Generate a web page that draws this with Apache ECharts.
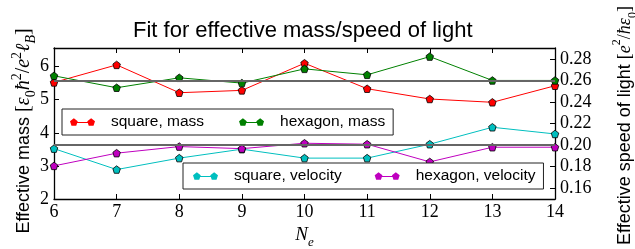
<!doctype html>
<html>
<head>
    <title>Effective mass / speed of light</title>
    <script src="https://cdn.jsdelivr.net/npm/echarts@6/dist/echarts.min.js"></script>
</head>
<style>
    html, body { margin: 0; padding: 0; background: #fff; }
    #chart { width: 635px; height: 249px; }
</style>
<body>
<div id="chart"></div>
<script>
  // values
  var ne = [6, 7, 8, 9, 10, 11, 12, 13, 14];
  var squareMass = [5.52, 6.05, 5.21, 5.28, 6.10, 5.33, 5.02, 4.92, 5.42];
  var hexagonMass = [5.72, 5.36, 5.66, 5.50, 5.93, 5.75, 6.30, 5.58, 5.58];
  var squareVelocity = [0.1967, 0.1773, 0.1879, 0.1962, 0.1879, 0.1879, 0.2008, 0.2165, 0.2103];
  var hexagonVelocity = [0.1807, 0.1925, 0.1986, 0.1967, 0.2017, 0.2008, 0.1844, 0.1980, 0.1980];
  var refLines = [0.26, 0.1952];
  var massTicks = [2, 3, 4, 5, 6];
  var speedTicks = [0.16, 0.18, 0.20, 0.22, 0.24, 0.26, 0.28];

  var pentagon = 'path://M0,-1L0.951,-0.309L0.588,0.809L-0.588,0.809L-0.951,-0.309Z';
  var legendIcon = 'path://M4,0L7.8,2.76L6.35,7.24L1.65,7.24L0.2,2.76ZM4,3.5L21,3.5L21,4.5L4,4.5Z' +
                   'M21,0L24.8,2.76L23.35,7.24L18.65,7.24L17.2,2.76Z';

  var serif = 'Liberation Serif';
  var sans = 'Liberation Sans';

  function pts(arr) {
    return ne.map(function (x, i) { return [x, arr[i]]; });
  }

  function mkSeries(name, arr, color, yIdx) {
    return {
      name: name,
      type: 'line',
      yAxisIndex: yIdx,
      data: pts(arr),
      symbol: pentagon,
      symbolSize: 7.5,
      showAllSymbol: true,
      lineStyle: { color: color, width: 1 },
      itemStyle: { color: color, borderColor: '#000', borderWidth: 0.8 },
      emphasis: { disabled: true },
      animation: false,
      z: 3
    };
  }

  function mathRich(big, small) {
    return {
      s: { fontFamily: sans, fontSize: 18, color: '#000', lineHeight: 28 },
      r: { fontFamily: serif, fontSize: big, color: '#000', lineHeight: 28 },
      m: { fontFamily: serif, fontStyle: 'italic', fontSize: big, color: '#000', lineHeight: 28 },
      sup: { fontFamily: serif, fontSize: small, color: '#000', verticalAlign: 'top', lineHeight: 28 },
      sub: { fontFamily: serif, fontStyle: 'italic', fontSize: small, color: '#000', verticalAlign: 'bottom', lineHeight: 28 },
      subr: { fontFamily: serif, fontSize: small, color: '#000', verticalAlign: 'bottom', lineHeight: 28 }
    };
  }

  var tickRich = { d: { fontFamily: serif, fontSize: 18, color: '#000' } };

  var frame = { show: true, onZero: false, lineStyle: { color: '#000', width: 1.3 } };
  var tickIn = { show: true, inside: true, length: 5, lineStyle: { color: '#000', width: 1 } };

  var chart = echarts.init(document.getElementById('chart'));

  var seriesList = [
    mkSeries('square, mass', squareMass, '#ff0000', 0),
    mkSeries('hexagon, mass', hexagonMass, '#008000', 0),
    mkSeries('square, velocity', squareVelocity, '#00bfbf', 1),
    mkSeries('hexagon, velocity', hexagonVelocity, '#bf00bf', 1)
  ];
  seriesList[2].markLine = {
    silent: true,
    symbol: 'none',
    label: { show: false },
    animation: false,
    lineStyle: { color: '#666', width: 2, type: 'solid' },
    data: refLines.map(function (v) { return { yAxis: v }; })
  };

  var legendBase = {
    orient: 'horizontal',
    backgroundColor: '#fff',
    borderColor: '#222',
    borderWidth: 1,
    borderRadius: 0,
    itemWidth: 25,
    itemHeight: 8,
    icon: legendIcon,
    itemStyle: { borderWidth: 0 },
    selectedMode: false,
    textStyle: { fontFamily: sans, fontSize: 15.5, color: '#000', padding: [0, 0, 0, 11] },
    z: 10
  };

  chart.setOption({
    animation: false,
    title: {
      text: 'Fit for effective mass/speed of light',
      left: 133,
      top: 20,
      padding: 0,
      textStyle: { fontFamily: sans, fontSize: 22, fontWeight: 'normal', color: '#000' }
    },
    // left axis title placed directly so it sits where the reference has it
    graphic: [{
      type: 'text',
      x: 24,
      y: 131,
      rotation: Math.PI / 2,
      silent: true,
      style: {
        text: '{s|Effective mass }{r|[}{m|ε}{subr|0}{m|ħ}{sup|2}{r|/}{m|e}{sup|2}{m|ℓ}{sub|B}{r|]}',
        rich: mathRich(20, 14),
        align: 'center',
        verticalAlign: 'middle'
      }
    }],
    legend: [
      Object.assign({}, legendBase, {
        data: ['square, mass', 'hexagon, mass'],
        left: 62, top: 109, padding: [5, 8, 5, 8], itemGap: 35
      }),
      Object.assign({}, legendBase, {
        data: ['square, velocity', 'hexagon, velocity'],
        left: 183, top: 163, padding: [5, 8, 5, 10], itemGap: 33
      })
    ],
    grid: { left: 54, right: 80, top: 48, bottom: 50, containLabel: false, outerBoundsMode: 'none' },
    xAxis: [
      {
        type: 'value', position: 'bottom', min: 6, max: 14, interval: 1,
        axisLine: frame, axisTick: tickIn, splitLine: { show: false },
        axisLabel: {
          margin: 4, rich: tickRich,
          formatter: function (v) { return '{d|' + v + '}'; }
        },
        name: '{m|N}{sub|e}',
        nameLocation: 'middle',
        nameGap: 21,
        nameTextStyle: { rich: mathRich(19, 13) }
      },
      {
        type: 'value', position: 'top', min: 6, max: 14, interval: 1,
        axisLine: frame, axisTick: tickIn, splitLine: { show: false },
        axisLabel: { show: false }
      }
    ],
    yAxis: [
      {
        type: 'value', position: 'left', min: 2, max: 6.56,
        axisLine: frame,
        axisTick: Object.assign({}, tickIn, { customValues: massTicks }),
        splitLine: { show: false },
        axisLabel: {
          customValues: massTicks, margin: 5, rich: tickRich,
          formatter: function (v) { return '{d|' + v + '}'; }
        }
      },
      {
        type: 'value', position: 'right', min: 0.15, max: 0.29,
        axisLine: frame,
        axisTick: Object.assign({}, tickIn, { customValues: speedTicks }),
        splitLine: { show: false },
        axisLabel: {
          customValues: speedTicks, margin: 5, rich: tickRich,
          formatter: function (v) { return '{d|' + v.toFixed(2) + '}'; }
        },
        name: '{s|Effective speed of light }{r|[}{m|e}{sup|2}{r|/}{m|ħε}{subr|0}{r|]}',
        nameLocation: 'middle',
        nameRotate: 90,
        nameGap: 56,
        nameTextStyle: { rich: mathRich(18, 12), padding: [0, 4, 0, 0] }
      }
    ],
    series: seriesList
  });
</script>
</body>
</html>
